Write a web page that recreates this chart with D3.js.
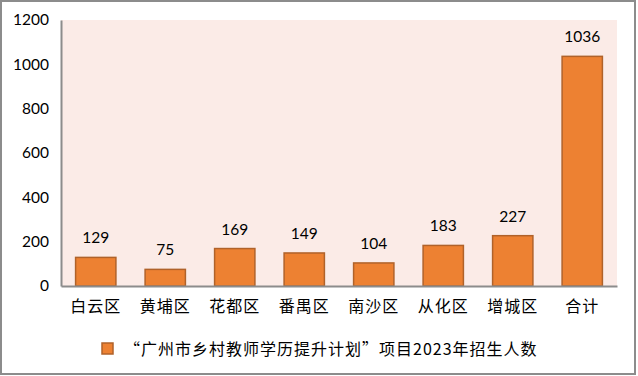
<!DOCTYPE html>
<html>
<head>
<meta charset="utf-8">
<script src="https://cdn.jsdelivr.net/npm/d3@7"></script>
<style>
  body { margin: 0; background: #fff; }
  svg { display: block; }
</style>
</head>
<body>
<div id="chart"></div>
<script>
const categories = ["白云区", "黄埔区", "花都区", "番禺区", "南沙区", "从化区", "增城区", "合计"];
const enrolment = [129, 75, 169, 149, 104, 183, 227, 1036];
const yTicks = [0, 200, 400, 600, 800, 1000, 1200];
const seriesName = "“广州市乡村教师学历提升计划”项目2023年招生人数";

const width = 638;
const height = 376;
const margin = { top: 20, right: 21, bottom: 90, left: 61 };

const svg = d3.select("#chart")
  .append("svg")
  .attr("width", width)
  .attr("height", height);

// outer frame
svg.append("rect")
  .attr("x", 1).attr("y", 1)
  .attr("width", 634).attr("height", 373)
  .attr("fill", "#fff")
  .attr("stroke", "#8c8c8c")
  .attr("stroke-width", 2);

const x = d3.scaleBand()
  .domain(categories)
  .range([margin.left, width - margin.right])
  .paddingInner(0.42)
  .paddingOuter(0.21);

const y = d3.scaleLinear()
  .domain([0, 1200])
  .range([height - margin.bottom, margin.top]);

// plot background
svg.append("rect")
  .attr("x", margin.left)
  .attr("y", margin.top)
  .attr("width", width - margin.right - margin.left)
  .attr("height", y(0) - margin.top)
  .attr("fill", "#fbebe7");

// y axis
const yAxis = svg.append("g")
  .attr("transform", `translate(${margin.left}, 0)`)
  .call(d3.axisLeft(y).tickValues(yTicks).tickFormat(d3.format("d")).tickSize(0).tickPadding(12));
yAxis.select(".domain").attr("stroke", "#8c8c8c").attr("stroke-width", 2);
yAxis.selectAll("text")
  .attr("font-family", "Lato, 'Open Sans', sans-serif")
  .attr("font-size", 15.5)
  .attr("fill", "#000");

// bars
svg.append("g")
  .selectAll("rect")
  .data(enrolment)
  .join("rect")
  .attr("x", (d, i) => x(categories[i]))
  .attr("y", (d) => y(d))
  .attr("width", x.bandwidth())
  .attr("height", (d) => y(0) - y(d))
  .attr("fill", "#ed8132")
  .attr("stroke", "#b0622a")
  .attr("stroke-width", 1.5);

// value labels
svg.append("g")
  .selectAll("text")
  .data(enrolment)
  .join("text")
  .attr("x", (d, i) => x(categories[i]) + x.bandwidth() / 2)
  .attr("y", (d) => y(d) - 14)
  .attr("text-anchor", "middle")
  .attr("font-family", "Lato, 'Open Sans', sans-serif")
  .attr("font-size", 15.5)
  .attr("fill", "#000")
  .text((d) => d);

// x axis
const xAxis = svg.append("g")
  .attr("transform", `translate(0, ${y(0)})`)
  .call(d3.axisBottom(x).tickSize(0).tickPadding(15));
xAxis.select(".domain").attr("stroke", "#8c8c8c").attr("stroke-width", 2);
xAxis.selectAll("text")
  .attr("font-family", "'Noto Sans CJK SC', sans-serif")
  .attr("font-size", 16)
  .attr("letter-spacing", 1)
  .attr("fill", "#000");

// legend
const legend = svg.append("g").attr("transform", "translate(102, 343)");
legend.append("rect")
  .attr("width", 11).attr("height", 11)
  .attr("fill", "#ed8132")
  .attr("stroke", "#b0622a")
  .attr("stroke-width", 1.5);
legend.append("text")
  .attr("x", 22)
  .attr("y", 6)
  .attr("dy", "0.35em")
  .attr("font-family", "'Noto Sans CJK SC', sans-serif")
  .attr("font-size", 16)
  .attr("letter-spacing", 1)
  .attr("fill", "#000")
  .text(seriesName);
</script>
</body>
</html>
